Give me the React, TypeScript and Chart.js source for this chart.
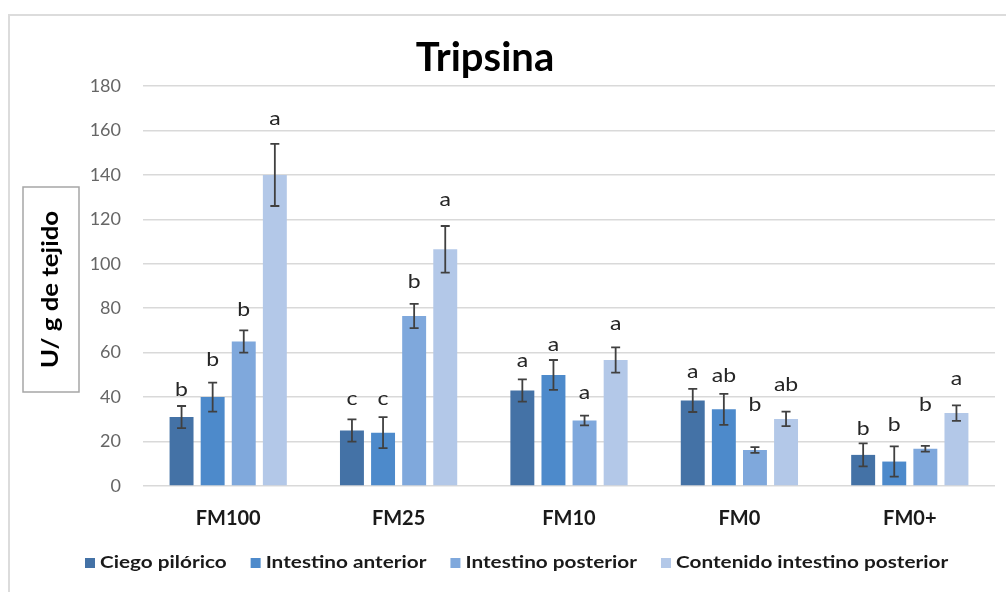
import React, { useEffect, useRef } from "react";
import { Chart, registerables } from "chart.js";

Chart.register(...registerables);

const categories = ["FM100", "FM25", "FM10", "FM0", "FM0+"];
const seriesNames = ["Ciego pilórico", "Intestino anterior", "Intestino posterior", "Contenido intestino posterior"];

const ciego = [31, 25, 43, 38.5, 14];
const ciegoErr = [5, 5, 5, 5.2, 5.2];
const anterior = [40, 24, 50, 34.5, 11];
const anteriorErr = [6.5, 7, 6.7, 7, 6.8];
const posterior = [65, 76.5, 29.5, 16.2, 16.8];
const posteriorErr = [5, 5.5, 2.2, 1.3, 1.3];
const contenido = [140, 106.5, 56.7, 30.2, 32.8];
const contenidoErr = [14, 10.5, 5.7, 3.3, 3.5];

const ciegoLetters = ["b", "c", "a", "a", "b"];
const anteriorLetters = ["b", "c", "a", "ab", "b"];
const posteriorLetters = ["b", "b", "a", "b", "b"];
const contenidoLetters = ["a", "a", "a", "ab", "a"];

const yTicks = [0, 20, 40, 60, 80, 100, 120, 140, 160, 180];

const values = [ciego, anterior, posterior, contenido];
const errors = [ciegoErr, anteriorErr, posteriorErr, contenidoErr];
const letters = [ciegoLetters, anteriorLetters, posteriorLetters, contenidoLetters];

const colors = ["#4472a6", "#4d8acb", "#7fa8dc", "#b3c8e8"];
// vertical gap (px) between error-bar top and letter baseline
const letterGap = [
  [10, 14, 12, 11, 8],
  [17, 12, 9, 12, 15],
  [14, 16, 17, 36, 35],
  [19, 20, 17, 21, 20],
];

const FONT = "Lato";
const STRETCH = 1.15;

const overlay = {
  id: "overlay",
  beforeDraw(chart: any) {
    const ctx = chart.ctx;
    ctx.save();
    ctx.strokeStyle = "#dcdcdc";
    ctx.lineWidth = 2;
    ctx.strokeRect(9, 15, 1100, 700);
    ctx.restore();
  },
  afterDatasetsDraw(chart: any) {
    const ctx = chart.ctx;
    const y = chart.scales.y;
    for (let d = 0; d < values.length; d++) {
      const meta = chart.getDatasetMeta(d);
      for (let i = 0; i < categories.length; i++) {
        const bar = meta.data[i];
        const x = bar.x;
        const v = values[d][i];
        const e = errors[d][i];
        const yt = y.getPixelForValue(v + e);
        const yb = y.getPixelForValue(v - e);
        ctx.save();
        ctx.strokeStyle = "#404040";
        ctx.lineWidth = 1.8;
        ctx.beginPath();
        ctx.moveTo(x, yt);
        ctx.lineTo(x, yb);
        ctx.moveTo(x - 4.5, yt);
        ctx.lineTo(x + 4.5, yt);
        ctx.moveTo(x - 4.5, yb);
        ctx.lineTo(x + 4.5, yb);
        ctx.stroke();
        ctx.fillStyle = "#262626";
        ctx.font = `20px ${FONT}`;
        ctx.textAlign = "center";
        ctx.textBaseline = "alphabetic";
        ctx.translate(x, yt - letterGap[d][i]);
        ctx.scale(STRETCH, 1);
        ctx.fillText(letters[d][i], 0, 0);
        ctx.restore();
      }
    }
  },
  afterDraw(chart: any) {
    const ctx = chart.ctx;
    ctx.save();
    // title
    ctx.fillStyle = "#000";
    ctx.font = `bold 40px ${FONT}`;
    ctx.textAlign = "center";
    ctx.textBaseline = "alphabetic";
    ctx.fillText("Tripsina", 485, 71);
    // y label box
    ctx.strokeStyle = "#a6a6a6";
    ctx.lineWidth = 1.5;
    ctx.strokeRect(23, 187, 56, 205);
    ctx.translate(51, 289.5);
    ctx.rotate(-Math.PI / 2);
    ctx.scale(1.12, 1);
    ctx.font = `bold 23px ${FONT}`;
    ctx.textBaseline = "middle";
    ctx.fillStyle = "#000";
    ctx.fillText("U/ g de tejido", 0, 0);
    ctx.restore();
    // legend
    ctx.save();
    ctx.font = `bold 17px ${FONT}`;
    ctx.textBaseline = "middle";
    ctx.textAlign = "left";
    let lx = 85;
    const ly = 563;
    const ls = 1.22;
    for (let s = 0; s < seriesNames.length; s++) {
      ctx.fillStyle = colors[s];
      ctx.fillRect(lx, ly - 5, 10, 10);
      ctx.fillStyle = "#1a1a1a";
      ctx.save();
      ctx.translate(lx + 15, ly);
      ctx.scale(ls, 1);
      ctx.fillText(seriesNames[s], 0, 0);
      ctx.restore();
      lx += 15 + ctx.measureText(seriesNames[s]).width * ls + 24;
    }
    ctx.restore();
  },
};

export default function App() {
  const ref = useRef<HTMLCanvasElement>(null);
  useEffect(() => {
    if (!ref.current) return;
    const chart = new Chart(ref.current, {
      type: "bar",
      data: {
        labels: categories,
        datasets: values.map((v, d) => ({
          label: seriesNames[d],
          data: v,
          backgroundColor: colors[d],
          categoryPercentage: 0.73,
          barPercentage: 0.77,
        })),
      },
      options: {
        animation: false,
        responsive: false,
        layout: { padding: { top: 86, left: 0, right: 11, bottom: 66 } },
        plugins: {
          legend: { display: false },
          tooltip: { enabled: false },
          title: { display: false },
        },
        scales: {
          x: {
            grid: { display: false },
            border: { display: false },
            ticks: { font: { family: FONT, size: 20, weight: "bold" }, color: "#1a1a1a", padding: 13 },
            afterFit: (s: any) => { s.height = 40; },
          },
          y: {
            min: 0,
            max: 180,
            afterBuildTicks: (s: any) => { s.ticks = yTicks.map((v) => ({ value: v })); },
            ticks: { font: { family: FONT, size: 18 }, color: "#666666", padding: 22 },
            grid: { color: "#d9d9d9", lineWidth: 1.5, drawTicks: false },
            border: { display: false },
            afterFit: (s: any) => { s.width = 143; },
          },
        },
      },
      plugins: [overlay],
    });
    return () => chart.destroy();
  }, []);
  return (
    <div style={{ position: "fixed", left: 0, top: 0, width: 1006, height: 592, background: "#fff" }}>
      <canvas ref={ref} width={1006} height={592} />
    </div>
  );
}
